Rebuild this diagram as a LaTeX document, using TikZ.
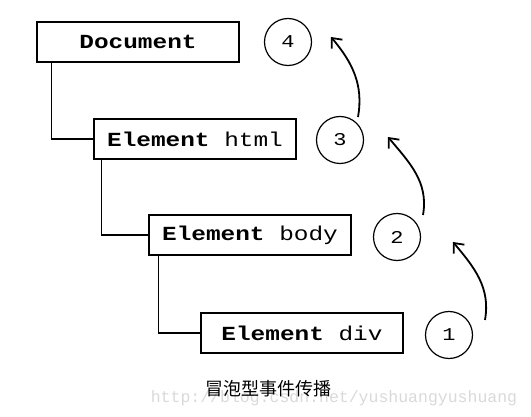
\documentclass[tikz,border=0pt]{standalone}
\usepackage{fontspec}
\usetikzlibrary{arrows.meta,positioning}
\newfontfamily\boxfont[FakeStretch=1.22]{Liberation Mono}
\newfontfamily\markfont{Liberation Mono}
\newfontfamily\cjk{Noto Sans CJK SC}

\begin{document}
\begin{tikzpicture}[x=1pt,y=1pt,line width=1.4pt,
		box/.style={draw, rectangle, minimum width=202pt, minimum height=40pt, inner sep=0pt, font=\boxfont\fontsize{20}{20}\selectfont},
		stage/.style={draw, circle, minimum size=47pt, inner sep=0pt, line width=1.2pt, font=\boxfont\fontsize{18}{18}\selectfont},
		bubble/.style={-{Straight Barb[length=8pt,width=14pt]}, line width=1.8pt}]
	\useasboundingbox (0,0) rectangle (531,-417);
	\node[box] (doc) at (138,-42) {\textbf{Document}};
	\node[box] (html) at (195,-139) {\textbf{Element} html};
	\node[box] (body) at (250,-235) {\textbf{Element} body};
	\node[box] (div) at (302,-333) {\textbf{Element} div};
	\node[stage] (c4) at (288,-42) {4};
	\node[stage] (c3) at (340,-140) {3};
	\node[stage] (c2) at (397,-237) {2};
	\node[stage] (c1) at (449,-335) {1};
	% tree lines
	\draw ([xshift=15pt]doc.south west) |- (html.west);
	\draw ([xshift=8pt]html.south west) |- (body.west);
	\draw ([xshift=10pt]body.south west) |- (div.west);
	% bubbling arrows
	\draw[bubble] ([shift={(36,15)}]c1.center) to[out=80,in=-50] ([shift={(56,-5)}]c2.center);
	\draw[bubble] ([shift={(26,22)}]c2.center) to[out=80,in=-50] ([shift={(48,3)}]c3.center);
	\draw[bubble] ([shift={(18,23)}]c3.center) to[out=80,in=-50] ([shift={(43,5)}]c4.center);
	% caption
	\node[text=black!15, font=\markfont\fontsize{16.5}{16.5}\selectfont] (mark) at (334,-398) {http://blog.csdn.net/yushuangyushuang};
	\node[font=\cjk\fontsize{18}{18}\selectfont] (caption) at (268,-389) {冒泡型事件传播};
\end{tikzpicture}
\end{document}
